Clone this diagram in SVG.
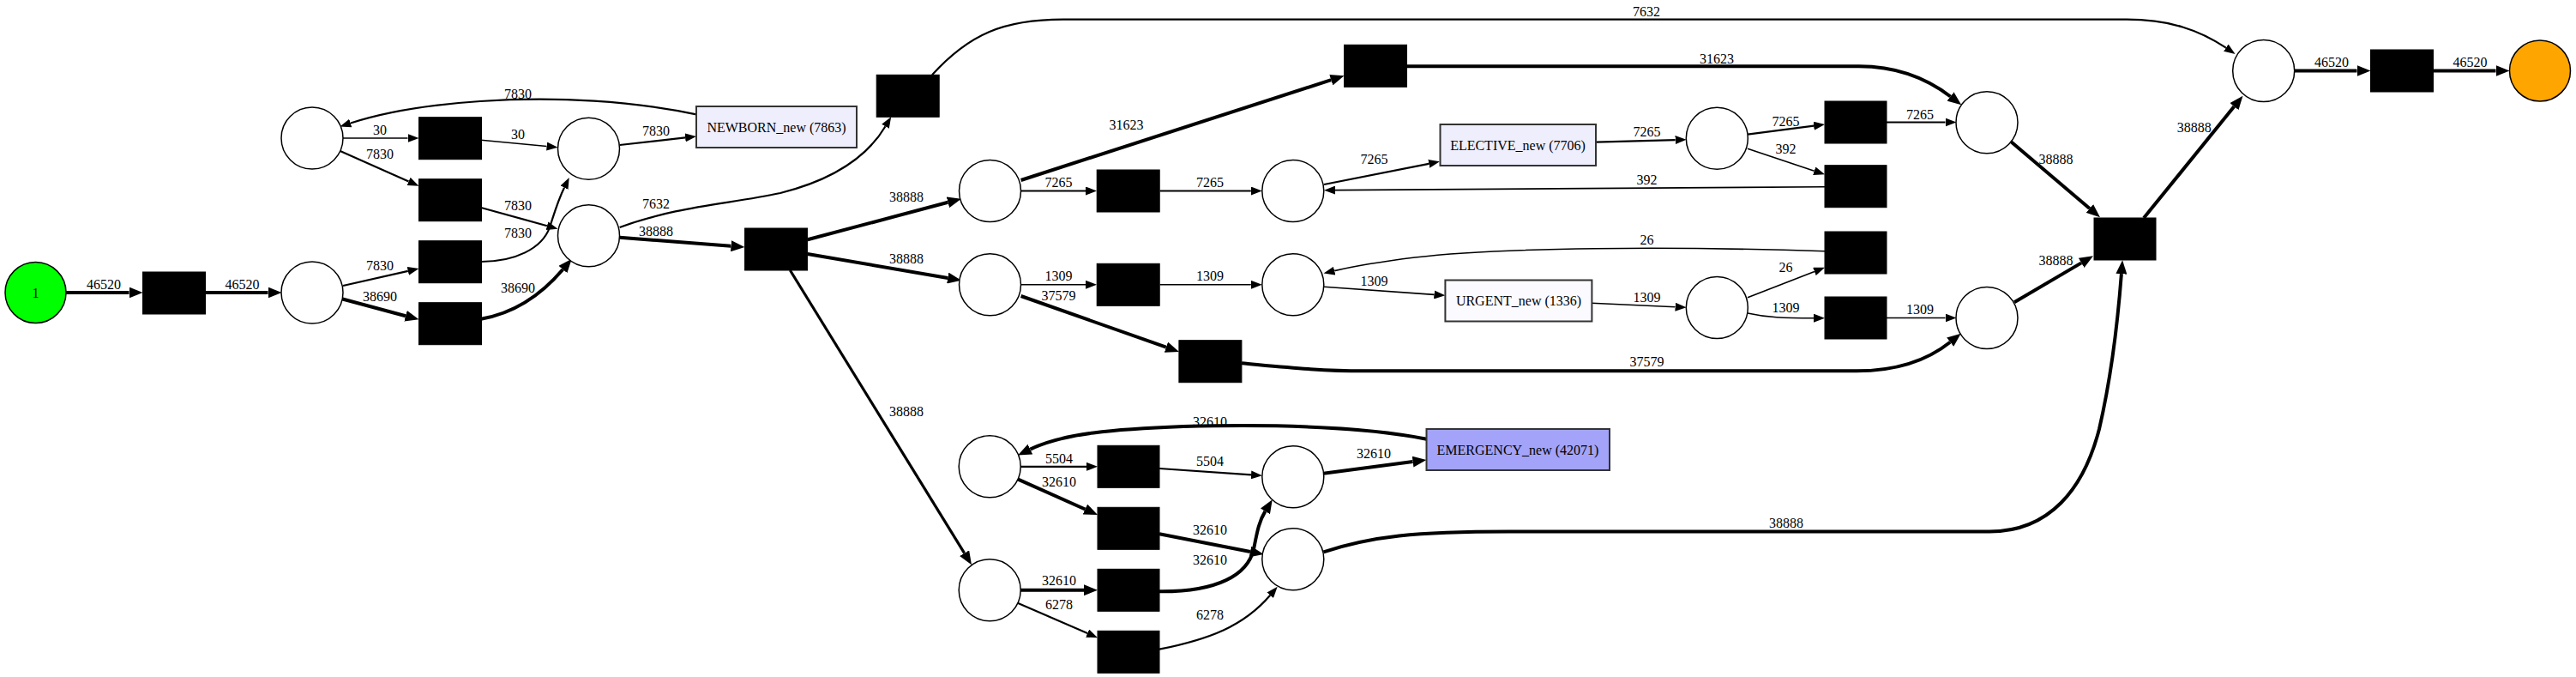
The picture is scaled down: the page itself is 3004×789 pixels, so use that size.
<svg xmlns="http://www.w3.org/2000/svg" width="3004" height="789" viewBox="0 0 3004 789">
<style>
text{font-family:"Liberation Serif","Times New Roman",serif;font-size:16px;fill:#000;text-anchor:middle}
.p{fill:#fff;stroke:#000;stroke-width:1.5}
.t{fill:#000;stroke:#000;stroke-width:1}
.a{fill:#eeeefc;stroke:#333;stroke-width:2}
.e{fill:none;stroke:#000}
.w1{stroke-width:1.6}
.w2{stroke-width:2.2}
.w3{stroke-width:3.2}
.w4{stroke-width:4}
.k{marker-end:url(#mt)}
.K{marker-end:url(#mT)}
</style>
<defs>
<marker id="mt" markerUnits="userSpaceOnUse" markerWidth="14" markerHeight="10" refX="0" refY="5" orient="auto"><path d="M0,0 L13,5 L0,10 Z" fill="#000"/></marker>
<marker id="mT" markerUnits="userSpaceOnUse" markerWidth="17" markerHeight="13" refX="0" refY="6.5" orient="auto"><path d="M0,0 L16,6.5 L0,13 Z" fill="#000"/></marker>
</defs>
<rect width="3004" height="789" fill="#fff"/>
<g id="connectors">
<path class="e w4 K" d="M77,341 L150.5,341"/><text x="121" y="337">46520</text>
<path class="e w4 K" d="M239,341 L312.5,341"/><text x="282.5" y="337">46520</text>
<path class="e w2 k" d="M400,333 L475.8,315.9"/><text x="443" y="315">7830</text>
<path class="e w4 K" d="M398.6,348.3 L473,368.2"/><text x="443" y="351">38690</text>
<path class="e w2 k" d="M561,305 C600,305 632,290 641,265 C646,250 650,235 658,218.7"/><text x="604" y="277">7830</text>
<path class="e w2 k" d="M561,242 L638,263.2"/><text x="604" y="245">7830</text>
<path class="e w4 K" d="M561,371.7 C600,365 630,345 656.4,314"/><text x="604" y="341">38690</text>
<path class="e w1 k" d="M400,161 L475.5,161"/><text x="443" y="157">30</text>
<path class="e w2 k" d="M396.7,176 L476.6,211.4"/><text x="443" y="185">7830</text>
<path class="e w1 k" d="M561,163.3 L637.6,170.5"/><text x="604" y="162">30</text>
<path class="e w2 k" d="M722.6,169 L799.1,160.4"/><text x="765" y="158">7830</text>
<path class="e w2 k" d="M812,133.3 C740,118 650,112 560,118 C500,122 450,130 408.8,143.5"/><text x="604" y="115">7830</text>
<path class="e w2 k" d="M722.6,265 C790,240 850,238 910,225 C970,210 1010,185 1032.5,147.3"/><text x="765" y="243">7632</text>
<path class="e w4 K" d="M722.6,276.7 L852.5,286.8"/><text x="765" y="275">38888</text>
<path class="e w2 k" d="M1087,87.3 C1130,40 1170,22.7 1240,22.7 L2480,22.7 C2530,22.7 2565,35 2595.8,55.7"/><text x="1920" y="18.5">7632</text>
<path class="e w4 K" d="M941.8,279.3 L1105.5,235.8"/><text x="1057" y="235">38888</text>
<path class="e w4 K" d="M941.8,296 L1105.2,324"/><text x="1057" y="307">38888</text>
<path class="e w3 K" d="M921.4,315 L1124.6,644.7"/><text x="1057" y="485">38888</text>
<path class="e w4 K" d="M1190.6,210 L1552.3,93.2"/><text x="1313.6" y="151">31623</text>
<path class="e w2 k" d="M1190.6,222.5 L1266,222.5"/><text x="1234.6" y="218">7265</text>
<path class="e w2 k" d="M1352.6,222.5 L1458.8,222.5"/><text x="1411" y="218">7265</text>
<path class="e w2 k" d="M1544,215 L1666.2,190.8"/><text x="1602.6" y="191">7265</text>
<path class="e w1 k" d="M2128,217.7 L1557,221.6"/><text x="1920.6" y="215">392</text>
<path class="e w2 k" d="M1861,165.7 L1953.6,163.1"/><text x="1920.6" y="159">7265</text>
<path class="e w2 k" d="M2038,156.7 L2115.1,146.7"/><text x="2082.6" y="147">7265</text>
<path class="e w1 k" d="M2038,173.3 L2115.7,199.2"/><text x="2082.6" y="179">392</text>
<path class="e w2 k" d="M2200,142.5 L2268.5,142.5"/><text x="2239" y="138.5">7265</text>
<path class="e w4 K" d="M1640,77.3 L2168,77.3 C2210,77.3 2245,90 2274.5,112.5"/><text x="2002" y="73.5">31623</text>
<path class="e w4 K" d="M2345,165 L2436.8,243"/><text x="2397.4" y="191">38888</text>
<path class="e w1 k" d="M1190.6,331.8 L1266,331.8"/><text x="1234.6" y="327">1309</text>
<path class="e w1 k" d="M1352.6,331.8 L1458.8,331.8"/><text x="1411" y="327">1309</text>
<path class="e w1 k" d="M1544,334.3 L1672.4,343.4"/><text x="1602.6" y="333">1309</text>
<path class="e w1 k" d="M2128,292.7 C1950,287 1750,288 1650,300 C1610,305 1580,310 1556.2,315.6"/><text x="1920.6" y="285">26</text>
<path class="e w1 k" d="M1856,353.3 L1953.6,357.7"/><text x="1920.6" y="352">1309</text>
<path class="e w1 k" d="M2038,346.7 L2115.9,316.4"/><text x="2082.6" y="317">26</text>
<path class="e w1 k" d="M2038,365 C2060,370 2080,370.7 2115,370.7"/><text x="2082.6" y="364">1309</text>
<path class="e w1 k" d="M2200,370.5 L2268.5,370.5"/><text x="2239" y="366">1309</text>
<path class="e w4 K" d="M1190.6,345 L1359.9,404.7"/><text x="1234.6" y="350">37579</text>
<path class="e w4 K" d="M1448,423.3 C1500,428 1540,432.3 1590,432.3 L2165,432.3 C2215,432.3 2250,418 2274.2,398.7"/><text x="1920.6" y="427">37579</text>
<path class="e w4 K" d="M2349,352.3 L2427.2,306.4"/><text x="2397.4" y="309">38888</text>
<path class="e w4 K" d="M1543.4,643.3 C1600,625 1650,619.5 1760,619.5 L2320,619.5 C2390,619.5 2430,570 2448,500 C2462,440 2470,370 2473.9,319.2"/><text x="2083" y="615">38888</text>
<path class="e w4 K" d="M2500,254 L2605.4,124.1"/><text x="2558.7" y="154">38888</text>
<path class="e w4 K" d="M2675.4,82.5 L2748.5,82.5"/><text x="2719" y="78">46520</text>
<path class="e w4 K" d="M2837.4,82.5 L2910.5,82.5"/><text x="2880.4" y="78">46520</text>
<path class="e w4 K" d="M1663.5,511.7 C1580,495 1460,495 1380,497 C1300,500 1240,505 1201.4,523.6"/><text x="1411" y="497">32610</text>
<path class="e w2 k" d="M1189.8,543.8 L1267,543.8"/><text x="1235" y="540">5504</text>
<path class="e w4 K" d="M1186.7,558.3 L1265.4,593.5"/><text x="1235" y="567">32610</text>
<path class="e w2 k" d="M1352,546 L1459,553.4"/><text x="1411" y="543">5504</text>
<path class="e w4 K" d="M1543.4,551.7 L1647.6,538.1"/><text x="1602" y="534">32610</text>
<path class="e w4 K" d="M1352,622.3 L1458,643"/><text x="1411" y="623">32610</text>
<path class="e w4 K" d="M1190,687.7 L1264,687.7"/><text x="1235" y="682">32610</text>
<path class="e w2 k" d="M1186.7,702.7 L1268.1,738.1"/><text x="1235" y="710">6278</text>
<path class="e w4 K" d="M1352,689.3 C1420,690 1455,670 1462,640 C1466,620 1468,608 1475.4,595.9"/><text x="1411" y="658">32610</text>
<path class="e w2 k" d="M1352,756.7 C1410,745 1450,730 1481.2,693.7"/><text x="1411" y="722">6278</text>
</g>
<g id="p_start"><circle cx="41.5" cy="341" r="35.5" fill="#00ff00" stroke="#000" stroke-width="1.5"/><text x="41.5" y="346.5">1</text></g>
<g id="t_1"><rect class="t" x="166.5" y="317" width="73" height="49"/></g>
<g id="p_2"><circle class="p" cx="364" cy="341" r="36"/></g>
<g id="p_tl"><circle class="p" cx="364" cy="161" r="36"/></g>
<g id="t_30"><rect class="t" x="488.5" y="136.7" width="73" height="49"/></g>
<g id="t_7830a"><rect class="t" x="488.5" y="208.7" width="73" height="49"/></g>
<g id="t_7830b"><rect class="t" x="488.5" y="280.7" width="73" height="49"/></g>
<g id="t_38690"><rect class="t" x="488.5" y="352.7" width="73" height="49"/></g>
<g id="p_mt"><circle class="p" cx="686.5" cy="173.3" r="36"/></g>
<g id="p_ml"><circle class="p" cx="686.5" cy="274.7" r="36"/></g>
<g id="newborn"><rect class="a" x="812" y="124" width="187" height="48"/><text x="905.5" y="153.5">NEWBORN_new (7863)</text></g>
<g id="t_fork"><rect class="t" x="868.6" y="266" width="73" height="49"/></g>
<g id="t_7632"><rect class="t" x="1022.2" y="87.3" width="73" height="49"/></g>
<g id="t_31623"><rect class="t" x="1567.5" y="52.3" width="73" height="49"/></g>
<g id="p_e1"><circle class="p" cx="1154.5" cy="222.5" r="36"/></g>
<g id="t_e7265a"><rect class="t" x="1279.2" y="198" width="73" height="49"/></g>
<g id="p_e2"><circle class="p" cx="1507.8" cy="222.5" r="36"/></g>
<g id="elective"><rect class="a" x="1679.5" y="145" width="181.5" height="48"/><text x="1770" y="174.5">ELECTIVE_new (7706)</text></g>
<g id="p_e3"><circle class="p" cx="2002.3" cy="161.2" r="36"/></g>
<g id="t_e7265b"><rect class="t" x="2128" y="118" width="72" height="49"/></g>
<g id="t_e392"><rect class="t" x="2128" y="192.7" width="72" height="49"/></g>
<g id="p_e4"><circle class="p" cx="2317" cy="142.7" r="36"/></g>
<g id="p_u1"><circle class="p" cx="1154.5" cy="331.8" r="36"/></g>
<g id="t_u1309a"><rect class="t" x="1279.2" y="307.3" width="73" height="49"/></g>
<g id="p_u2"><circle class="p" cx="1507.8" cy="331.8" r="36"/></g>
<g id="urgent"><rect x="1685.4" y="326.5" width="171" height="48" fill="#fafaff" stroke="#333" stroke-width="2"/><text x="1771" y="356">URGENT_new (1336)</text></g>
<g id="p_u3"><circle class="p" cx="2002.3" cy="358.5" r="36"/></g>
<g id="t_u26"><rect class="t" x="2128" y="270" width="72" height="49"/></g>
<g id="t_u1309b"><rect class="t" x="2128" y="346" width="72" height="49"/></g>
<g id="p_u4"><circle class="p" cx="2317" cy="370.5" r="36"/></g>
<g id="t_37579"><rect class="t" x="1374.9" y="396.7" width="73" height="49"/></g>
<g id="t_join"><rect class="t" x="2442" y="254" width="72" height="49"/></g>
<g id="p_end1"><circle class="p" cx="2639.7" cy="82.5" r="36"/></g>
<g id="t_end"><rect class="t" x="2764.5" y="58" width="73" height="49"/></g>
<g id="p_final"><circle cx="2962" cy="82.5" r="35.5" fill="#ffa500" stroke="#000" stroke-width="1.5"/></g>
<g id="p_em1"><circle class="p" cx="1154.2" cy="543.8" r="36"/></g>
<g id="p_em0"><circle class="p" cx="1154.2" cy="687.7" r="36"/></g>
<g id="t_5504"><rect class="t" x="1280" y="519.3" width="72" height="49"/></g>
<g id="t_32610a"><rect class="t" x="1280" y="591.3" width="72" height="49"/></g>
<g id="t_32610b"><rect class="t" x="1280" y="663.3" width="72" height="49"/></g>
<g id="t_6278"><rect class="t" x="1280" y="735.3" width="72" height="49"/></g>
<g id="p_em2"><circle class="p" cx="1507.8" cy="555.7" r="36"/></g>
<g id="p_em3"><circle class="p" cx="1507.8" cy="651.7" r="36"/></g>
<g id="emergency"><rect x="1663.5" y="500" width="213.5" height="48" fill="#a3a3f9" stroke="#333" stroke-width="2"/><text x="1770" y="529.5">EMERGENCY_new (42071)</text></g>
</svg>
